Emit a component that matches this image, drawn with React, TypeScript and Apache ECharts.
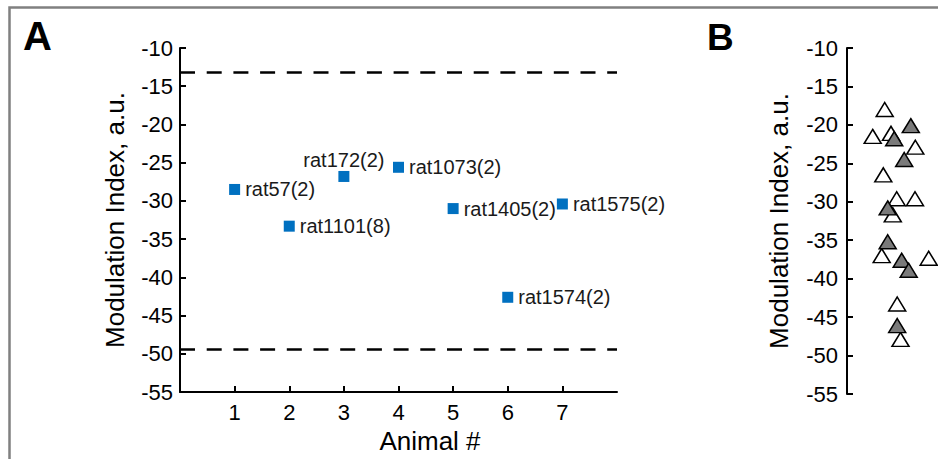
import React, { useEffect, useRef } from "react";
import * as echarts from "echarts";

// Panel A: animals
const animalX = [1, 2, 3, 4, 5, 6, 7];
const animalY = [-28.5, -33.3, -26.8, -25.6, -31.0, -42.6, -30.4];
const animalNames = ["rat57(2)", "rat1101(8)", "rat172(2)", "rat1073(2)", "rat1405(2)", "rat1574(2)", "rat1575(2)"];
const animalLabelPos = ["right", "right", "top", "right", "right", "right", "right"];
const thresholds = [-13.2, -49.4];
const xTickValues = [1, 2, 3, 4, 5, 6, 7];

// Panel B: individual sessions (x = jitter position)
const openX = [37.7, 25.7, 44, 68.3, 36.3, 49.7, 68, 45.8, 34.7, 81.7, 50.2, 53.5];
const openY = [-18.0, -21.5, -21.1, -22.9, -26.5, -29.6, -29.6, -31.7, -37.0, -37.35, -43.3, -47.9];
const filledX = [63.8, 47.2, 57.2, 40.7, 40.7, 54.7, 61.7, 50.2];
const filledY = [-20.1, -21.8, -24.5, -30.8, -35.2, -37.6, -38.9, -46.1];

const FONT = "'Liberation Sans', Arial, Helvetica, sans-serif";

export default function App() {
  const ref = useRef<HTMLDivElement>(null);
  useEffect(() => {
    if (!ref.current) return;
    const chart = echarts.init(ref.current, null, { renderer: "svg" });

    const yAxisCommon = (gridIndex: number, labelMargin: number, nameGap: number) => ({
      type: "value",
      gridIndex,
      min: -55,
      max: -10,
      interval: 5,
      axisLine: { show: true, onZero: false, lineStyle: { color: "#000", width: 2 } },
      axisTick: { show: true, inside: true, length: 6, lineStyle: { color: "#000", width: 2 } },
      axisLabel: { fontSize: 22, color: "#000", margin: labelMargin, fontFamily: FONT },
      splitLine: { show: false },
      name: "Modulation Index, a.u.",
      nameLocation: "middle",
      nameGap,
      nameTextStyle: { fontSize: 26, color: "#000", fontFamily: FONT },
    });

    const option: any = {
      animation: false,
      textStyle: { fontFamily: FONT },
      grid: [
        { left: 180, top: 48, width: 437, height: 346 },
        { left: 847, top: 48, width: 91, height: 346 },
      ],
      xAxis: [
        {
          type: "value",
          gridIndex: 0,
          min: 0,
          max: 8,
          interval: 1,
          axisLine: { show: true, onZero: false, lineStyle: { color: "#000", width: 2 } },
          axisTick: {
            show: true,
            inside: true,
            length: 6,
            customValues: xTickValues,
            lineStyle: { color: "#000", width: 2 },
          },
          axisLabel: {
            fontSize: 22,
            color: "#000",
            margin: 9,
            customValues: xTickValues,
            fontFamily: FONT,
          },
          splitLine: { show: false },
          name: "Animal #",
          nameLocation: "middle",
          nameGap: 35,
          nameTextStyle: { fontSize: 26, color: "#000", fontFamily: FONT, padding: [0, 0, 0, 63] },
        },
        { type: "value", gridIndex: 1, min: 0, max: 91, show: false },
      ],
      yAxis: [yAxisCommon(0, 7, 52), yAxisCommon(1, 9, 55)],
      series: [
        {
          type: "scatter",
          xAxisIndex: 0,
          yAxisIndex: 0,
          symbol: "rect",
          symbolSize: 11,
          itemStyle: { color: "#0070C0", opacity: 1 },
          data: animalX.map((x, i) => ({
            value: [x, animalY[i]],
            name: animalNames[i],
            label: {
              show: true,
              position: animalLabelPos[i],
              distance: animalLabelPos[i] === "top" ? 1 : 5,
              formatter: animalNames[i],
              fontSize: 20,
              color: "#1a1a1a",
              fontFamily: FONT,
            },
          })),
          markLine: {
            silent: true,
            symbol: "none",
            label: { show: false },
            lineStyle: { color: "#000", width: 2.5, type: [15, 11.7], opacity: 1 },
            data: thresholds.map((v) => ({ yAxis: v })),
          },
        },
        {
          type: "scatter",
          xAxisIndex: 1,
          yAxisIndex: 1,
          symbol: "triangle",
          symbolSize: [17, 14],
          itemStyle: { color: "#ffffff", borderColor: "#000", borderWidth: 1.5, opacity: 1 },
          data: openX.map((x, i) => [x, openY[i]]),
        },
        {
          type: "scatter",
          xAxisIndex: 1,
          yAxisIndex: 1,
          symbol: "triangle",
          symbolSize: [17, 14],
          itemStyle: { color: "#7a7a7a", borderColor: "#000", borderWidth: 1.5, opacity: 1 },
          data: filledX.map((x, i) => [x, filledY[i]]),
        },
      ],
      graphic: [
        {
          type: "rect",
          silent: true,
          shape: { x: 9.5, y: 7.5, width: 1000, height: 1000 },
          style: { fill: "none", stroke: "#808080", lineWidth: 2.5 },
        },
        {
          type: "text",
          left: 23,
          top: 16,
          style: { text: "A", font: `bold 40px ${FONT}`, fill: "#000" },
        },
        {
          type: "text",
          left: 707,
          top: 19,
          style: { text: "B", font: `bold 37px ${FONT}`, fill: "#000" },
        },
      ],
    };
    chart.setOption(option);
    return () => chart.dispose();
  }, []);
  return (
    <div
      ref={ref}
      style={{ position: "fixed", left: 0, top: 0, width: 938, height: 459, background: "#fff" }}
    />
  );
}
